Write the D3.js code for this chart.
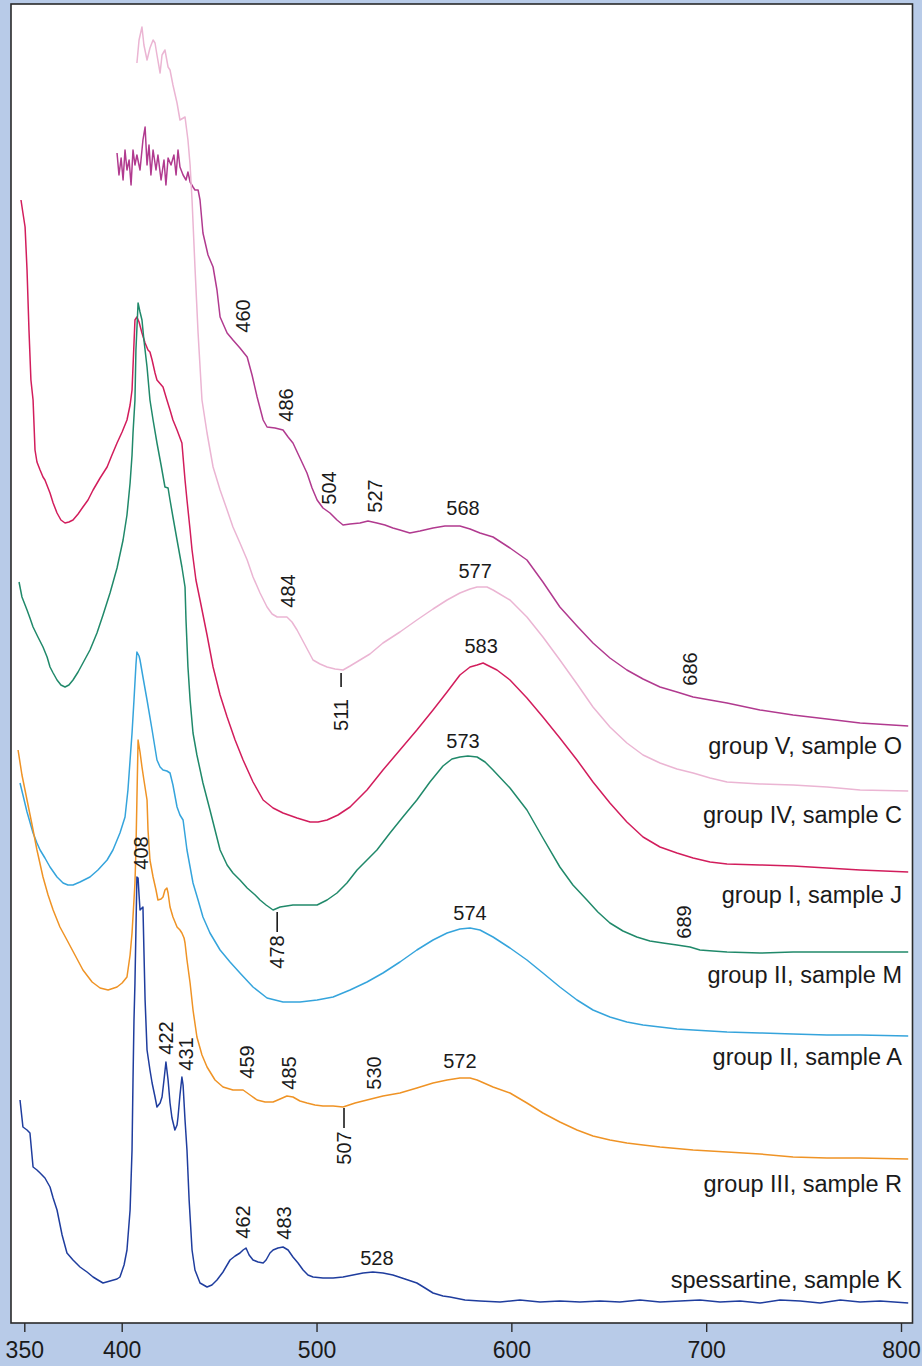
<!DOCTYPE html>
<html>
<head>
<meta charset="utf-8">
<script src="https://cdn.jsdelivr.net/npm/d3@7"></script>
<style>
  html, body { margin: 0; padding: 0; background: #b8cbe8; }
  svg { display: block; }
  text { font-family: "Liberation Sans", Arial, Helvetica, sans-serif; fill: #1a1a1a; }
</style>
</head>
<body>
<svg id="chart" width="922" height="1366"></svg>
<script>
// ---------- DATA (wavelength nm, offset absorbance in arbitrary units) ----------
const tickValues = [350, 400, 500, 600, 700, 800];

const seriesNames = [
  "group V, sample O", "group IV, sample C", "group I, sample J",
  "group II, sample M", "group II, sample A", "group III, sample R",
  "spessartine, sample K"
];
// baseline level (in absorbance units) of each series' name label
const nameLevels = [56.9, 50.0, 42.0, 34.0, 25.8, 13.1, 3.5];

const seriesO = [[397.6,117.0],[398.6,114.8],[399.7,116.5],[400.7,114.3],[401.7,117.3],[402.7,115.3],[403.8,116.3],[404.8,113.8],[405.8,117.3],[406.8,115.8],[407.8,116.8],[409.4,115.3],[410.9,118.3],[412.0,119.6],[413.0,115.8],[414.0,117.8],[415.0,114.8],[416.1,117.3],[417.6,115.3],[418.6,116.8],[420.2,114.3],[421.7,116.3],[422.7,113.8],[423.8,116.5],[425.3,115.8],[426.8,116.8],[427.9,114.8],[428.9,117.3],[429.9,115.6],[431.5,114.8],[433.0,114.3],[434.0,115.1],[435.1,114.1],[436.6,113.6],[437.6,113.3],[439.2,113.3],[440.2,112.3],[441.7,109.0],[444.3,106.8],[446.9,105.6],[448.9,103.3],[450.5,100.6],[454.1,99.0],[457.1,98.3],[460.7,97.5],[464.4,96.6],[466.9,94.8],[469.5,92.6],[472.6,90.3],[474.6,89.6],[478.7,89.5],[482.8,89.3],[485.4,88.6],[487.9,88.0],[491.5,86.5],[495.1,85.0],[497.7,83.5],[500.3,82.3],[503.3,81.5],[506.9,81.0],[510.5,80.3],[513.6,79.8],[517.2,79.9],[522.3,80.0],[526.4,80.2],[531.0,80.0],[535.1,79.8],[539.2,79.5],[542.8,79.3],[547.9,79.0],[553.1,79.2],[559.8,79.5],[565.9,79.7],[573.6,79.7],[578.8,79.4],[583.9,79.0],[590.6,78.6],[599.3,77.5],[608.0,76.3],[616.2,74.1],[624.9,71.6],[633.7,69.7],[641.9,68.0],[650.6,66.5],[659.3,65.3],[667.6,64.4],[676.3,63.6],[685.0,63.1],[693.3,62.6],[702.0,62.3],[710.7,62.0],[727.6,61.3],[744.6,60.8],[762.0,60.4],[779.0,60.0],[803.7,59.7]];

const seriesC = [[407.8,126.0],[408.9,128.3],[410.4,129.6],[411.4,127.8],[413.0,126.3],[414.5,127.5],[416.1,128.3],[417.1,128.0],[418.1,126.8],[419.7,125.0],[420.7,126.8],[422.2,127.3],[423.8,125.6],[424.8,125.3],[426.3,123.8],[428.4,122.0],[429.9,120.3],[432.5,120.6],[434.0,118.3],[435.1,115.8],[436.1,112.3],[437.6,105.6],[439.2,99.0],[441.2,92.3],[443.8,89.0],[446.9,85.6],[450.5,83.3],[454.1,81.3],[457.1,79.6],[460.7,78.0],[464.4,76.3],[467.4,74.6],[471.0,73.0],[474.6,71.6],[477.2,70.9],[479.8,70.6],[484.8,70.6],[487.4,70.1],[490.0,69.3],[494.1,67.8],[498.2,66.3],[501.8,65.9],[505.4,65.6],[509.5,65.4],[513.6,65.3],[517.2,65.7],[522.3,66.3],[527.4,66.9],[534.1,68.0],[542.8,69.1],[551.5,70.3],[559.8,71.4],[567.0,72.3],[573.6,73.0],[578.8,73.4],[582.4,73.6],[587.5,73.6],[590.6,73.3],[599.3,72.3],[608.0,70.6],[616.2,68.6],[624.9,66.3],[633.7,63.9],[641.9,61.6],[650.6,59.6],[659.3,58.0],[667.6,56.8],[676.3,56.0],[685.0,55.4],[693.3,55.0],[702.0,54.5],[710.7,54.1],[727.6,53.9],[744.6,53.8],[762.0,53.6],[779.0,53.3],[803.7,53.2]];

const seriesJ = [[348.3,112.3],[349.3,111.0],[350.4,109.6],[351.4,105.3],[352.4,99.3],[353.4,94.3],[354.5,92.3],[355.5,87.3],[356.5,86.1],[358.1,85.3],[359.6,84.6],[360.6,84.3],[362.2,83.5],[363.2,83.0],[364.8,82.0],[366.8,81.0],[368.8,80.3],[370.9,80.0],[372.9,80.1],[375.0,80.3],[377.6,80.9],[380.1,81.6],[382.7,82.3],[385.3,83.3],[388.9,84.5],[392.5,85.6],[395.0,86.8],[397.6,88.0],[400.2,89.1],[402.7,90.3],[404.3,91.8],[405.3,93.3],[406.8,100.3],[407.8,100.6],[408.9,100.1],[410.4,99.0],[412.0,98.0],[413.5,97.3],[414.5,97.1],[415.6,96.3],[417.1,95.0],[418.1,94.3],[421.2,93.6],[423.2,92.3],[424.8,91.3],[426.3,90.3],[428.4,89.3],[430.9,88.0],[432.5,84.3],[433.5,82.3],[435.1,79.3],[436.1,77.3],[438.1,74.3],[440.2,72.3],[443.8,68.8],[446.9,65.6],[450.5,62.8],[454.1,60.6],[458.2,58.3],[462.3,56.3],[467.4,54.1],[472.6,52.3],[477.7,51.5],[482.8,51.0],[490.0,50.5],[496.7,50.1],[500.8,50.1],[505.4,50.3],[511.0,50.8],[517.2,51.6],[525.9,53.3],[534.1,55.3],[542.8,57.3],[551.5,59.3],[559.8,61.3],[567.0,63.1],[573.6,64.8],[578.8,65.6],[582.4,65.8],[585.5,66.0],[587.5,65.8],[592.6,65.3],[599.3,64.3],[608.0,62.5],[616.2,60.6],[624.9,58.5],[633.7,56.3],[641.9,54.1],[650.6,52.0],[659.3,50.1],[667.6,48.6],[676.3,47.6],[685.0,47.0],[693.3,46.5],[702.0,46.1],[710.7,45.9],[727.6,45.8],[744.6,45.7],[762.0,45.5],[779.0,45.3],[803.7,45.1]];

const seriesM = [[347.3,74.1],[348.8,72.6],[350.4,71.8],[351.4,71.3],[352.9,70.5],[354.5,69.6],[357.0,68.6],[359.6,67.6],[361.7,66.6],[363.2,65.6],[364.8,65.0],[366.8,64.3],[368.8,63.8],[370.9,63.6],[372.9,63.8],[375.0,64.3],[377.6,65.1],[380.1,66.0],[383.7,67.3],[387.3,69.0],[390.4,70.8],[394.0,73.0],[397.6,75.5],[400.7,78.3],[402.7,80.8],[404.3,84.0],[405.3,86.8],[405.8,89.0],[406.8,92.3],[407.3,97.3],[408.4,102.0],[409.4,101.1],[410.4,100.3],[411.4,98.3],[413.0,95.6],[414.5,92.3],[416.1,90.3],[418.1,88.0],[420.2,85.8],[422.2,83.6],[423.8,83.5],[424.8,82.3],[426.3,80.6],[428.4,78.3],[430.9,75.6],[432.5,73.6],[433.0,70.3],[434.0,65.6],[435.1,62.3],[436.6,59.0],[438.6,56.8],[441.7,54.0],[445.3,51.3],[450.5,47.3],[454.1,45.8],[457.1,45.0],[460.7,44.3],[464.4,43.5],[468.5,42.8],[471.0,42.3],[474.1,41.8],[477.7,41.3],[481.3,41.6],[487.9,41.8],[494.1,41.8],[500.3,41.8],[505.4,42.3],[510.5,43.0],[515.6,44.0],[520.8,45.3],[525.9,46.3],[531.0,47.3],[537.7,49.0],[544.3,50.6],[551.5,52.3],[558.2,54.1],[564.9,55.7],[569.5,56.4],[573.6,56.6],[577.7,56.7],[582.4,56.6],[586.5,56.1],[590.6,55.3],[599.3,53.5],[608.0,51.3],[616.2,48.5],[624.9,45.6],[631.6,43.8],[638.8,42.3],[644.4,41.1],[650.6,40.0],[657.3,39.2],[664.4,38.6],[671.1,38.2],[677.8,38.0],[685.0,37.8],[691.7,37.6],[696.8,37.3],[703.5,37.2],[710.7,37.1],[727.6,37.0],[744.6,37.1],[762.0,37.1],[779.0,37.1],[803.7,37.1]];

const seriesA = [[347.8,54.0],[349.3,52.8],[351.4,51.1],[354.5,49.0],[356.5,48.0],[358.1,47.3],[360.6,46.5],[363.2,45.6],[366.8,44.6],[369.9,44.0],[372.4,43.8],[375.0,43.8],[378.6,44.1],[383.7,44.6],[387.8,45.3],[392.5,46.3],[395.5,47.3],[399.1,49.0],[401.7,50.6],[403.2,53.3],[404.3,56.3],[405.3,59.0],[406.3,62.3],[407.3,65.8],[407.8,67.1],[408.9,66.7],[409.4,66.3],[410.9,64.6],[413.0,62.3],[415.6,59.3],[418.1,56.3],[419.7,55.6],[421.2,55.3],[423.2,55.2],[424.8,55.0],[426.3,53.8],[428.4,51.6],[429.9,50.8],[431.5,50.3],[432.5,48.8],[433.5,47.3],[435.1,45.6],[436.6,44.0],[439.2,42.3],[441.7,40.6],[445.3,39.0],[450.5,37.3],[455.6,36.1],[460.7,35.0],[467.4,33.6],[474.6,32.5],[482.8,32.1],[491.5,32.1],[500.3,32.3],[508.5,32.6],[517.2,33.3],[525.9,34.1],[534.1,35.0],[542.8,36.1],[551.5,37.3],[559.8,38.3],[567.0,39.0],[573.6,39.4],[578.8,39.5],[583.9,39.3],[590.6,38.6],[599.3,37.5],[608.0,36.3],[616.2,35.0],[624.9,33.6],[633.7,32.3],[641.9,31.3],[650.6,30.6],[659.3,30.1],[667.6,29.8],[676.3,29.6],[685.0,29.4],[693.3,29.3],[710.7,29.1],[727.6,29.0],[744.6,28.9],[762.0,28.8],[779.0,28.8],[803.7,28.7]];

const seriesR = [[346.8,57.3],[348.8,54.8],[351.4,52.3],[354.0,49.8],[356.5,47.3],[359.6,44.6],[362.2,42.8],[364.8,41.3],[368.3,39.6],[371.9,38.3],[376.0,36.8],[380.1,35.3],[384.8,34.1],[388.9,33.5],[393.0,33.3],[397.6,33.6],[400.2,34.0],[402.7,34.6],[404.3,36.8],[405.3,39.0],[406.3,42.3],[406.8,44.0],[407.3,47.3],[407.8,52.3],[408.4,58.3],[409.4,57.1],[410.4,55.6],[411.4,54.3],[413.0,52.3],[413.5,49.3],[414.5,46.3],[416.1,44.6],[417.6,43.3],[418.6,42.3],[420.2,42.4],[421.2,42.6],[422.2,43.3],[423.2,43.5],[423.8,43.0],[424.8,41.6],[426.3,40.6],[428.4,39.6],[429.9,39.3],[430.9,39.0],[432.0,38.5],[432.5,38.0],[433.5,36.3],[435.1,34.0],[436.6,31.3],[438.6,28.6],[441.2,26.8],[443.8,25.6],[447.9,24.3],[452.0,23.6],[457.1,23.3],[462.3,23.3],[465.9,22.8],[469.5,22.3],[473.6,22.1],[477.7,22.1],[481.3,22.4],[484.8,22.7],[487.9,22.6],[491.5,22.2],[495.1,22.0],[499.2,21.8],[503.3,21.7],[508.5,21.7],[513.6,21.6],[519.8,22.0],[525.9,22.3],[534.1,22.7],[542.8,23.0],[551.5,23.5],[559.8,24.0],[567.0,24.3],[573.6,24.5],[578.8,24.5],[582.4,24.3],[590.6,23.6],[599.3,23.0],[608.0,22.0],[616.2,21.0],[624.9,20.1],[633.7,19.3],[641.9,18.7],[650.6,18.3],[659.3,18.0],[667.6,17.8],[676.3,17.6],[693.3,17.3],[710.7,17.1],[727.6,16.9],[744.6,16.6],[762.0,16.5],[779.0,16.5],[803.7,16.4]];

const seriesK = [[347.8,22.3],[348.8,20.5],[349.3,19.6],[351.4,19.3],[352.9,19.0],[354.5,15.6],[356.5,15.3],[358.1,15.0],[360.6,14.5],[363.2,13.6],[364.8,12.5],[366.8,11.3],[369.4,8.8],[371.9,7.0],[375.0,6.3],[378.6,5.6],[382.2,5.1],[385.3,4.6],[387.8,4.3],[390.4,4.0],[394.0,4.2],[397.6,4.4],[399.1,4.6],[401.2,5.8],[402.7,7.3],[404.3,11.3],[405.3,17.3],[405.8,24.3],[406.3,30.3],[406.8,34.0],[407.3,39.3],[407.8,44.6],[408.4,44.5],[408.9,42.8],[409.4,41.3],[410.4,41.5],[410.9,41.6],[411.4,37.3],[412.0,32.3],[413.0,27.3],[414.5,25.3],[415.6,24.0],[417.1,22.6],[418.1,21.6],[419.7,22.0],[420.7,22.6],[421.7,24.3],[422.7,26.1],[423.8,24.3],[424.8,22.0],[425.8,20.5],[427.3,19.3],[428.4,19.8],[428.9,20.6],[429.9,22.8],[430.9,24.6],[431.5,23.8],[432.5,20.3],[433.5,17.3],[434.6,12.3],[436.1,7.3],[437.6,5.3],[440.2,4.0],[443.8,3.6],[446.3,3.8],[448.9,4.3],[452.0,5.1],[455.6,6.3],[458.2,6.7],[460.7,7.0],[462.3,7.3],[463.8,7.5],[465.4,6.8],[467.4,6.3],[470.0,6.1],[472.6,6.0],[474.1,6.3],[476.1,7.0],[477.7,7.3],[480.2,7.5],[482.8,7.6],[485.4,7.3],[487.9,6.6],[490.5,6.0],[493.1,5.3],[495.6,4.8],[498.2,4.6],[503.3,4.5],[508.5,4.5],[513.6,4.6],[518.7,4.8],[523.9,5.0],[528.9,5.1],[534.1,5.0],[539.2,4.8],[545.4,4.4],[551.5,4.0],[555.7,3.5],[559.8,3.0],[564.9,2.7],[568.5,2.6],[576.2,2.3],[583.9,2.2],[594.2,2.1],[604.4,2.3],[614.7,2.1],[624.9,2.2],[635.2,2.1],[645.5,2.2],[655.7,2.1],[666.0,2.3],[676.3,2.1],[686.6,2.2],[696.8,2.3],[707.1,2.1],[717.4,2.2],[727.6,2.0],[737.9,2.3],[748.2,2.2],[758.5,2.0],[768.8,2.3],[779.0,2.1],[789.3,2.2],[803.7,2.0]];

const allSeries = [seriesO, seriesC, seriesJ, seriesM, seriesA, seriesR, seriesK];
const seriesColors = ["#b13a8f", "#ebb5d3", "#d21d5c", "#20896a", "#35a4dc", "#ef9325", "#1f3d9e"];

// peak annotations: [text, wavelength anchor, level anchor, rotated?, leader (levels) or null]
const annotations = [
  ["460", 462.3, 100.7, true, null],
  ["486", 484.3, 91.8, true, null],
  ["504", 506.4, 83.5, true, null],
  ["527", 530.0, 82.7, true, null],
  ["568", 575.2, 80.8, false, null],
  ["484", 485.4, 73.2, true, null],
  ["577", 581.4, 74.5, false, null],
  ["511", 512.6, 60.8, true, [65.0, 63.6]],
  ["583", 584.5, 67.0, false, null],
  ["686", 691.7, 65.4, true, null],
  ["573", 575.2, 57.5, false, null],
  ["478", 479.8, 37.1, true, [41.1, 39.1]],
  ["574", 578.8, 40.3, false, null],
  ["689", 688.6, 40.1, true, null],
  ["408", 409.9, 47.0, true, null],
  ["422", 422.7, 28.5, true, null],
  ["431", 433.0, 26.9, true, null],
  ["459", 464.4, 26.1, true, null],
  ["485", 485.9, 25.0, true, null],
  ["530", 529.4, 25.0, true, null],
  ["572", 573.6, 25.5, false, null],
  ["507", 514.1, 17.5, true, [21.5, 19.5]],
  ["462", 462.3, 10.1, true, null],
  ["483", 483.3, 10.0, true, null],
  ["528", 531.0, 5.8, false, null]
];

// ---------- DRAWING ----------
const svg = d3.select("#chart");
const panel = { left: 11, top: 4, right: 912.5, bottom: 1323 };

const x = d3.scaleLinear().domain([350, 800]).range([24.3, 901]);
const y = d3.scaleLinear().domain([0, 132]).range([panel.bottom, panel.top - 1]);

svg.append("rect")
  .attr("x", panel.left).attr("y", panel.top)
  .attr("width", panel.right - panel.left).attr("height", panel.bottom - panel.top)
  .attr("fill", "#ffffff").attr("stroke", "#2a2a2a").attr("stroke-width", 1.6);

const line = d3.line().x(d => x(d[0])).y(d => y(d[1]));

svg.append("g").selectAll("path")
  .data(allSeries)
  .join("path")
  .attr("d", line)
  .attr("fill", "none")
  .attr("stroke", (d, i) => seriesColors[i])
  .attr("stroke-width", 1.5)
  .attr("stroke-linejoin", "round");

// series names
svg.append("g").selectAll("text")
  .data(seriesNames)
  .join("text")
  .attr("x", 902)
  .attr("y", (d, i) => y(nameLevels[i]))
  .attr("text-anchor", "end")
  .attr("font-size", 23.5)
  .text(d => d);

// annotations
const ann = svg.append("g").attr("font-size", 20);
annotations.forEach(([t, wl, lv, rot, leader]) => {
  const px = x(wl), py = y(lv);
  if (rot) {
    ann.append("text")
      .attr("transform", `translate(${px},${py}) rotate(-90)`)
      .attr("text-anchor", "middle")
      .attr("dy", "0.36em")
      .text(t);
  } else {
    ann.append("text")
      .attr("x", px).attr("y", py)
      .attr("text-anchor", "middle")
      .text(t);
  }
  if (leader) {
    ann.append("line")
      .attr("x1", px).attr("x2", px)
      .attr("y1", y(leader[0])).attr("y2", y(leader[1]))
      .attr("stroke", "#1a1a1a").attr("stroke-width", 1.6);
  }
});

// x axis
const axis = d3.axisBottom(x).tickValues(tickValues).tickSize(9).tickPadding(10).tickFormat(d3.format("d"));
const gAxis = svg.append("g").attr("transform", `translate(0,${panel.bottom})`).call(axis);
gAxis.select(".domain").remove();
gAxis.selectAll(".tick line").attr("stroke", "#2a2a2a").attr("stroke-width", 1.4);
gAxis.selectAll(".tick text")
  .attr("font-size", 23)
  .attr("font-family", "'Liberation Sans', Arial, sans-serif")
  .attr("fill", "#1a1a1a");
</script>
</body>
</html>
